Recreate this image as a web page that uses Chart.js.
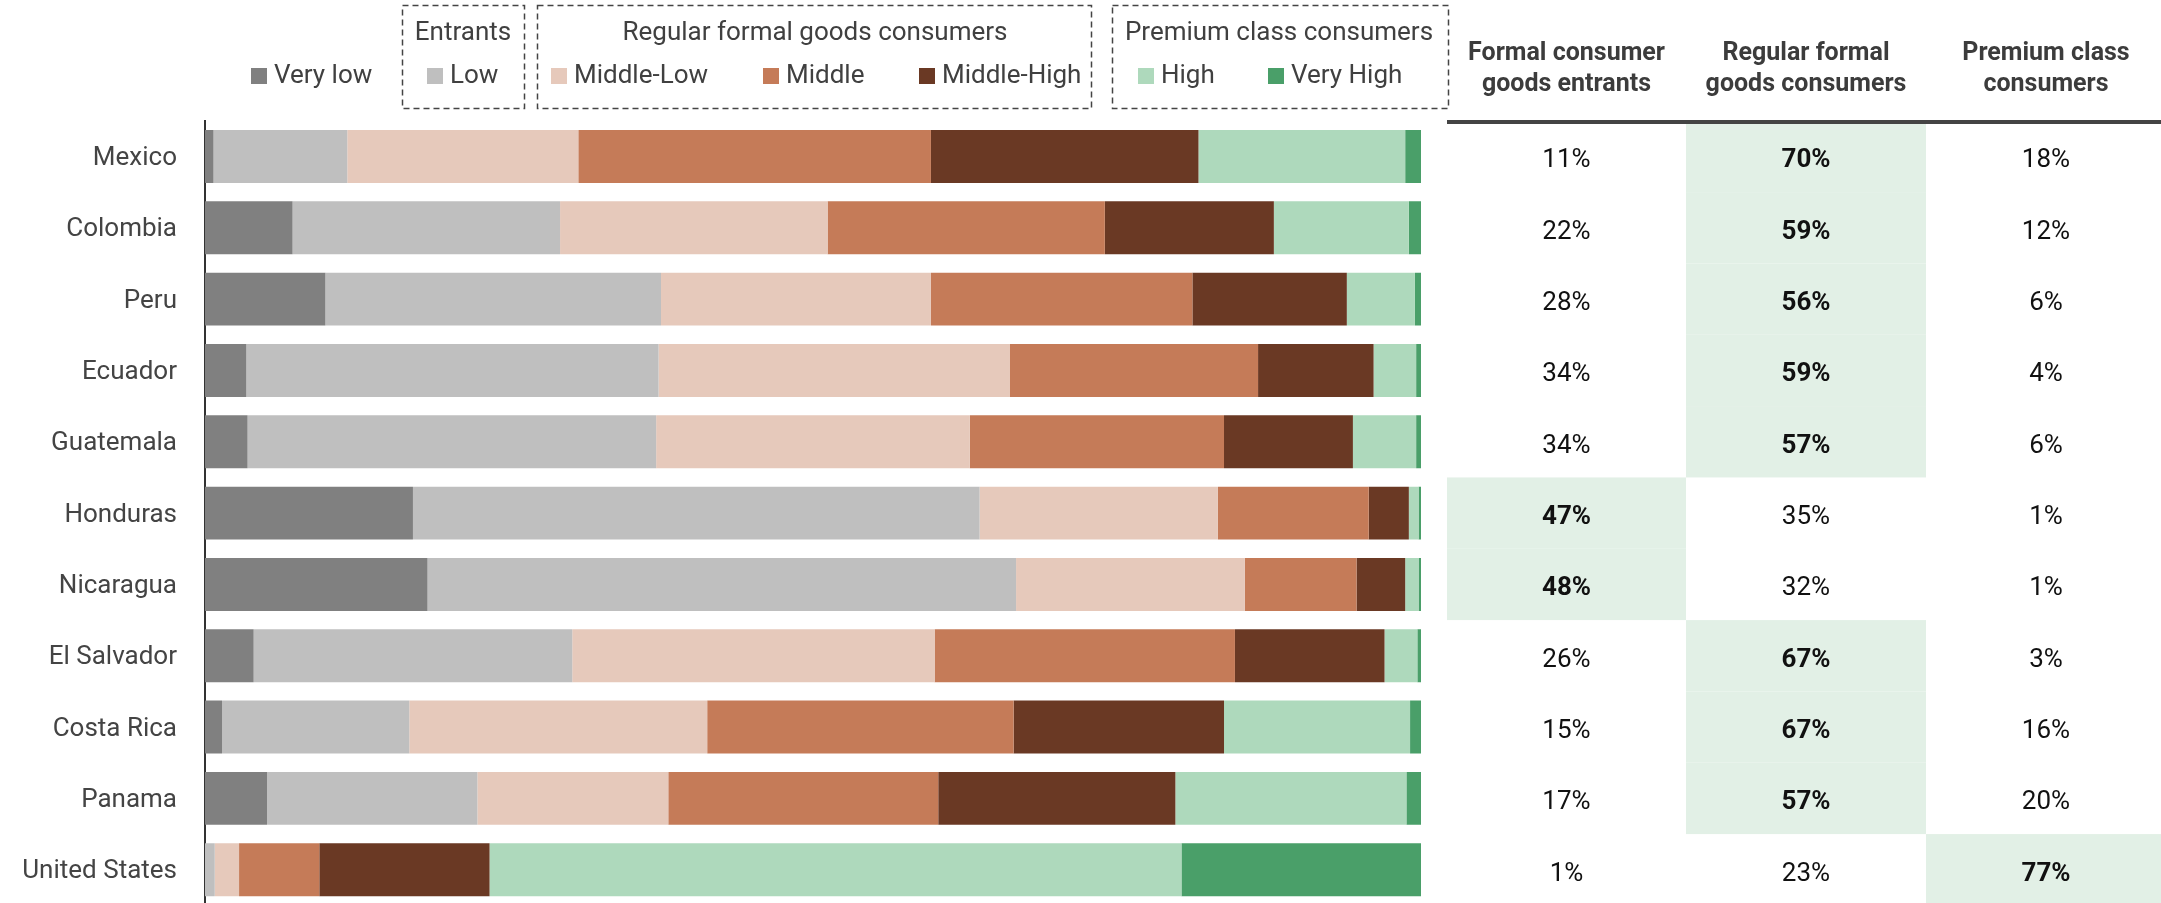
<!DOCTYPE html>
<html>
<head>
<meta charset="utf-8">
<title>Consumer segments by country</title>
<script src="https://cdn.jsdelivr.net/npm/chart.js@4.4.1/dist/chart.umd.min.js"></script>
<style>
  html, body { margin: 0; padding: 0; background: #fff; overflow: hidden; }
  canvas { display: block; }
</style>
</head>
<body>
<canvas id="segmentosChart" width="2161" height="949"></canvas>
<script>
// ===== DATOS =====
const countries = ['Mexico', 'Colombia', 'Peru', 'Ecuador', 'Guatemala', 'Honduras',
    'Nicaragua', 'El Salvador', 'Costa Rica', 'Panama', 'United States'];

// share of population by segment (%)
const veryLow    = [0.7, 7.2, 9.9, 3.4, 3.5, 17.1, 18.3, 4.0, 1.4, 5.1, 0];
const low        = [11, 22, 27.6, 33.9, 33.6, 46.6, 48.4, 26.2, 15.4, 17.3, 0.8];
const middleLow  = [19, 22, 22.2, 28.9, 25.8, 19.6, 18.8, 29.8, 24.5, 15.7, 2.0];
const middle     = [29, 22.8, 21.5, 20.4, 20.9, 12.4, 9.2, 24.7, 25.2, 22.2, 6.6];
const middleHigh = [22, 13.9, 12.7, 9.5, 10.6, 3.3, 4.0, 12.3, 17.3, 19.5, 14.0];
const high       = [17, 11.1, 5.6, 3.5, 5.2, 0.8, 1.1, 2.7, 15.3, 19.0, 56.9];
const veryHigh   = [1.3, 1.0, 0.5, 0.4, 0.4, 0.2, 0.2, 0.3, 0.9, 1.2, 19.7];

const segmentLabels = ['Very low', 'Low', 'Middle-Low', 'Middle', 'Middle-High', 'High', 'Very High'];
const segmentColors = ['#808080', '#bfbfbf', '#e6c9bb', '#c57b58', '#6a3924', '#aed9bc', '#4a9f69'];
const segmentData = [veryLow, low, middleLow, middle, middleHigh, high, veryHigh];

const tableHeaders = [
    ['Formal consumer', 'goods entrants'],
    ['Regular formal', 'goods consumers'],
    ['Premium class', 'consumers']
];

// table columns: entrants = Low, regular = Middle-Low..Middle-High, premium = High + Very High
const entrants = low.map(v => Math.round(v));
const regular = countries.map((_, i) => Math.round(middleLow[i] + middle[i] + middleHigh[i]));
const premium = countries.map((_, i) => Math.round(high[i] + veryHigh[i]));

const FONT = 'Roboto, "Noto Sans", sans-serif';

// ===== LEYENDA AGRUPADA =====
const legendGroups = [
    { title: 'Entrants', box: [402, 5, 524, 108], cx: 463 },
    { title: 'Regular formal goods consumers', box: [537, 5, 1091, 108], cx: 815 },
    { title: 'Premium class consumers', box: [1112, 5, 1448, 108], cx: 1279 }
];
const legendX = [251, 427, 551, 763, 919, 1138, 1268];

const groupedLegend = {
    id: 'groupedLegend',
    afterDraw(chart) {
        const ctx = chart.ctx;
        ctx.save();
        ctx.strokeStyle = '#444';
        ctx.lineWidth = 1.5;
        ctx.setLineDash([6, 4]);
        legendGroups.forEach(g => {
            const [x1, y1, x2, y2] = g.box;
            ctx.strokeRect(x1 + 0.5, y1 + 0.5, x2 - x1, y2 - y1);
        });
        ctx.setLineDash([]);

        ctx.fillStyle = '#404040';
        ctx.font = '26px ' + FONT;
        ctx.textAlign = 'center';
        ctx.textBaseline = 'alphabetic';
        legendGroups.forEach(g => ctx.fillText(g.title, g.cx, 40));

        ctx.textAlign = 'left';
        segmentLabels.forEach((label, i) => {
            ctx.fillStyle = segmentColors[i];
            ctx.fillRect(legendX[i], 68, 16, 16);
            ctx.fillStyle = '#404040';
            ctx.fillText(label, legendX[i] + 23, 83);
        });
        ctx.restore();
    }
};

// ===== TABLA LATERAL =====
const colEdges = [1447, 1686, 1926, 2166];

const sideTable = {
    id: 'sideTable',
    afterDraw(chart) {
        const ctx = chart.ctx;
        const yScale = chart.scales.y;
        const step = (yScale.bottom - yScale.top) / countries.length;
        const columns = [entrants, regular, premium];
        ctx.save();

        // highlighted cell = largest group in each country
        countries.forEach((_, i) => {
            const vals = columns.map(c => c[i]);
            const best = vals.indexOf(Math.max(...vals));
            const yc = yScale.getPixelForValue(i);
            ctx.fillStyle = '#e2f0e6';
            ctx.fillRect(colEdges[best], yc - step / 2, colEdges[best + 1] - colEdges[best], step);

            columns.forEach((col, c) => {
                const cx = (colEdges[c] + colEdges[c + 1]) / 2;
                ctx.font = (c === best ? 'bold ' : '') + '26px ' + FONT;
                ctx.fillStyle = '#111';
                ctx.textAlign = 'center';
                ctx.textBaseline = 'alphabetic';
                ctx.fillText(col[i] + '%', cx, yc + 11);
            });
        });

        // headers
        ctx.font = 'bold 25px ' + FONT;
        ctx.fillStyle = '#3c3c3c';
        ctx.textAlign = 'center';
        tableHeaders.forEach((lines, c) => {
            const cx = (colEdges[c] + colEdges[c + 1]) / 2;
            lines.forEach((line, k) => ctx.fillText(line, cx, 60 + k * 31));
        });
        ctx.fillStyle = '#444';
        ctx.fillRect(colEdges[0], 120, 2161 - colEdges[0], 4);
        ctx.restore();
    }
};

// ===== GRÁFICO SEGMENTOS =====
new Chart(document.getElementById('segmentosChart'), {
    type: 'bar',
    data: {
        labels: countries,
        datasets: segmentLabels.map((label, i) => ({
            label: label,
            data: segmentData[i],
            backgroundColor: segmentColors[i],
            borderWidth: 0,
            barPercentage: 0.742,
            categoryPercentage: 1
        }))
    },
    options: {
        indexAxis: 'y',
        responsive: false,
        animation: false,
        layout: {
            padding: { top: 120.8, bottom: 3.8, left: 0, right: 740 }
        },
        scales: {
            x: {
                stacked: true,
                min: 0,
                max: 100,
                display: false
            },
            y: {
                stacked: true,
                grid: { display: false, drawTicks: false },
                border: { display: true, color: '#333', width: 2 },
                ticks: {
                    color: '#444',
                    padding: 28,
                    labelOffset: 2,
                    font: { family: FONT, size: 26 }
                },
                afterFit(scale) {
                    scale.width = 205;
                }
            }
        },
        plugins: {
            legend: { display: false },
            tooltip: { enabled: false }
        }
    },
    plugins: [groupedLegend, sideTable]
});
</script>
</body>
</html>
